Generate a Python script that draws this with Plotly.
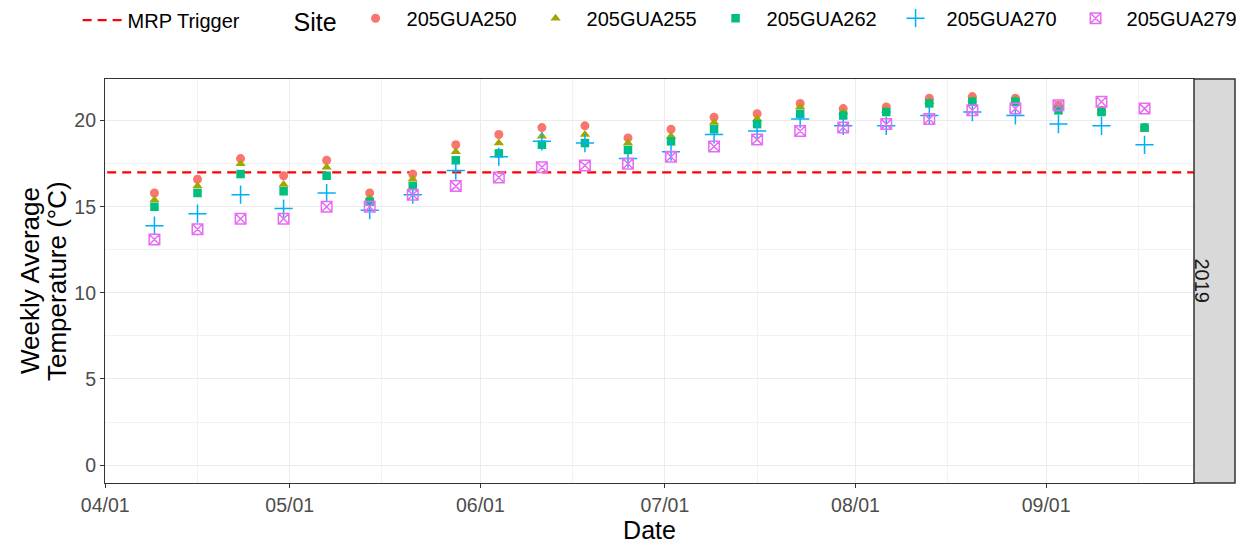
import pandas as pd
import plotly.graph_objects as go

# Weekly sampling dates (2019 season)
dates = ["2019-04-09", "2019-04-16", "2019-04-23", "2019-04-30", "2019-05-07", "2019-05-14",
         "2019-05-21", "2019-05-28", "2019-06-04", "2019-06-11", "2019-06-18", "2019-06-25",
         "2019-07-02", "2019-07-09", "2019-07-16", "2019-07-23", "2019-07-30", "2019-08-06",
         "2019-08-13", "2019-08-20", "2019-08-27", "2019-09-03", "2019-09-10", "2019-09-17"]

# Weekly average temperature (°C) per site
t_205GUA250 = [15.8, 16.6, 17.8, 16.8, 17.7, 15.8, 16.9, 18.6, 19.2, 19.6, 19.7, 19.0,
               19.5, 20.2, 20.4, 21.0, 20.7, 20.8, 21.3, 21.4, 21.3, 20.9, 20.6, 19.6]
t_205GUA255 = [15.4, 16.2, 17.5, 16.3, 17.3, 15.5, 16.6, 18.2, 18.7, 19.1, 19.2, 18.7,
               19.1, 19.9, 20.1, 20.8, 20.5, 20.6, 21.1, 21.2, 21.2, 20.8, 20.5, 19.5]
t_205GUA262 = [15.0, 15.8, 16.9, 15.9, 16.8, 15.3, 16.2, 17.7, 18.1, 18.6, 18.7, 18.3,
               18.8, 19.5, 19.8, 20.4, 20.3, 20.5, 21.0, 21.1, 21.1, 20.6, 20.5, 19.6]
t_205GUA270 = [13.9, 14.6, 15.7, 14.9, 15.8, 14.8, 15.7, 17.1, 17.9, 18.8, 18.7, 17.8,
               18.2, 19.2, 19.4, 20.1, 19.7, 19.7, 20.3, 20.5, 20.3, 19.8, 19.7, 18.6]
t_205GUA279 = [13.1, 13.7, 14.3, 14.3, 15.0, 15.0, 15.7, 16.2, 16.7, 17.3, 17.4, 17.5,
               17.9, 18.5, 18.9, 19.4, 19.6, 19.8, 20.1, 20.6, 20.7, 20.9, 21.1, 20.7]

sites = ["205GUA250", "205GUA255", "205GUA262", "205GUA270", "205GUA279"]
series = [t_205GUA250, t_205GUA255, t_205GUA262, t_205GUA270, t_205GUA279]
colors = ["#F8766D", "#A3A500", "#00BF7D", "#00B0F6", "#E76BF3"]
symbols = ["circle", "triangle-up", "square", "cross-thin", "square-x-open"]
sizes = [9, 9, 8.5, 13, 10.5]

mrp_trigger = 17
facet_label = "2019"
y_title_lines = ["Weekly Average", "Temperature (°C)"]

x_ticks = ["2019-04-01", "2019-05-01", "2019-06-01", "2019-07-01", "2019-08-01", "2019-09-01"]
x_tick_text = [pd.Timestamp(d).strftime("%m/%d") for d in x_ticks]
x_minor = ["2019-04-16", "2019-05-16", "2019-06-16", "2019-07-16", "2019-08-16", "2019-09-16"]

font = "Liberation Sans, Arial, sans-serif"

# panel geometry in pixels
W, H = 1252, 546
L, R, T, B = 105, 1194, 79, 483
PW = R - L


def px_to_paper_x(px):
    return (px - L) / PW


fig = go.Figure()

# threshold line spanning the panel
fig.add_trace(go.Scatter(
    x=["2019-03-25", "2019-10-01"], y=[mrp_trigger, mrp_trigger],
    mode="lines", name="MRP Trigger",
    line=dict(color="#FF0000", width=2.2, dash="9px,6px"),
    legend="legend", hoverinfo="skip",
))

for name, vals, col, sym, sz in zip(sites, series, colors, symbols, sizes):
    open_sym = sym in ("cross-thin", "square-x-open")
    fig.add_trace(go.Scatter(
        x=dates, y=vals, mode="markers", name=name, legend="legend2",
        marker=dict(symbol=sym, size=sz, color=col,
                    line=dict(color=col, width=1.5 if open_sym else 0)),
    ))

# facet strip on the right
fig.add_shape(type="rect", xref="paper", yref="paper",
              x0=1.0, x1=px_to_paper_x(1235), y0=0, y1=1,
              fillcolor="#D9D9D9", line=dict(color="#333333", width=1.5), layer="above")
fig.add_annotation(text=facet_label, xref="paper", yref="paper",
                   x=px_to_paper_x((1194 + 1235) / 2), y=0.5, showarrow=False,
                   textangle=90, font=dict(family=font, size=20, color="#1A1A1A"))

# two-line y-axis title
for txt, cx in zip(y_title_lines, [30, 57]):
    fig.add_annotation(text=txt, xref="paper", yref="paper",
                       x=px_to_paper_x(cx), y=0.5, xanchor="center", yanchor="middle",
                       showarrow=False, textangle=-90,
                       font=dict(family=font, size=26, color="#000000"))

fig.update_layout(
    width=W, height=H,
    margin=dict(l=L, r=W - R, t=T, b=H - B),
    paper_bgcolor="white", plot_bgcolor="white",
    font=dict(family=font, color="#000000"),
    showlegend=True,
    legend=dict(orientation="h", xref="container", yref="container",
                x=0.062, y=0.963, xanchor="left", yanchor="middle",
                itemwidth=40,
                font=dict(size=20, family=font), bgcolor="rgba(0,0,0,0)"),
    legend2=dict(orientation="h", xref="container", yref="container",
                 x=0.2328, y=0.963, xanchor="left", yanchor="middle",
                 itemwidth=52,
                 title=dict(text="Site", side="left", font=dict(size=25, family=font)),
                 font=dict(size=20, family=font), entrywidth=113,
                 bgcolor="rgba(0,0,0,0)"),
    xaxis=dict(
        type="date", range=["2019-03-31 23:00", "2019-09-25 01:00"],
        tickmode="array", tickvals=x_ticks, ticktext=x_tick_text,
        ticks="outside", ticklen=4, tickcolor="#333333",
        tickfont=dict(size=19.5, color="#4D4D4D", family=font),
        showgrid=True, gridcolor="#EBEBEB", gridwidth=1.2,
        minor=dict(tickmode="array", tickvals=x_minor, showgrid=True,
                   gridcolor="#F2F2F2", gridwidth=0.6, ticklen=0),
        showline=True, linecolor="#333333", linewidth=1.2, mirror=True,
        zeroline=False, automargin=False,
        title=dict(text="Date", font=dict(size=25, family=font), standoff=5),
    ),
    yaxis=dict(
        range=[-1.04, 22.42], tickmode="array", tickvals=[0, 5, 10, 15, 20],
        ticks="outside", ticklen=4, tickcolor="#333333",
        tickfont=dict(size=19.5, color="#4D4D4D", family=font),
        showgrid=True, gridcolor="#EBEBEB", gridwidth=1.2,
        minor=dict(tickmode="array", tickvals=[2.5, 7.5, 12.5, 17.5], showgrid=True,
                   gridcolor="#F2F2F2", gridwidth=0.6, ticklen=0),
        showline=True, linecolor="#333333", linewidth=1.2, mirror=True,
        zeroline=False, automargin=False,
    ),
)

fig.write_html("out.html")
